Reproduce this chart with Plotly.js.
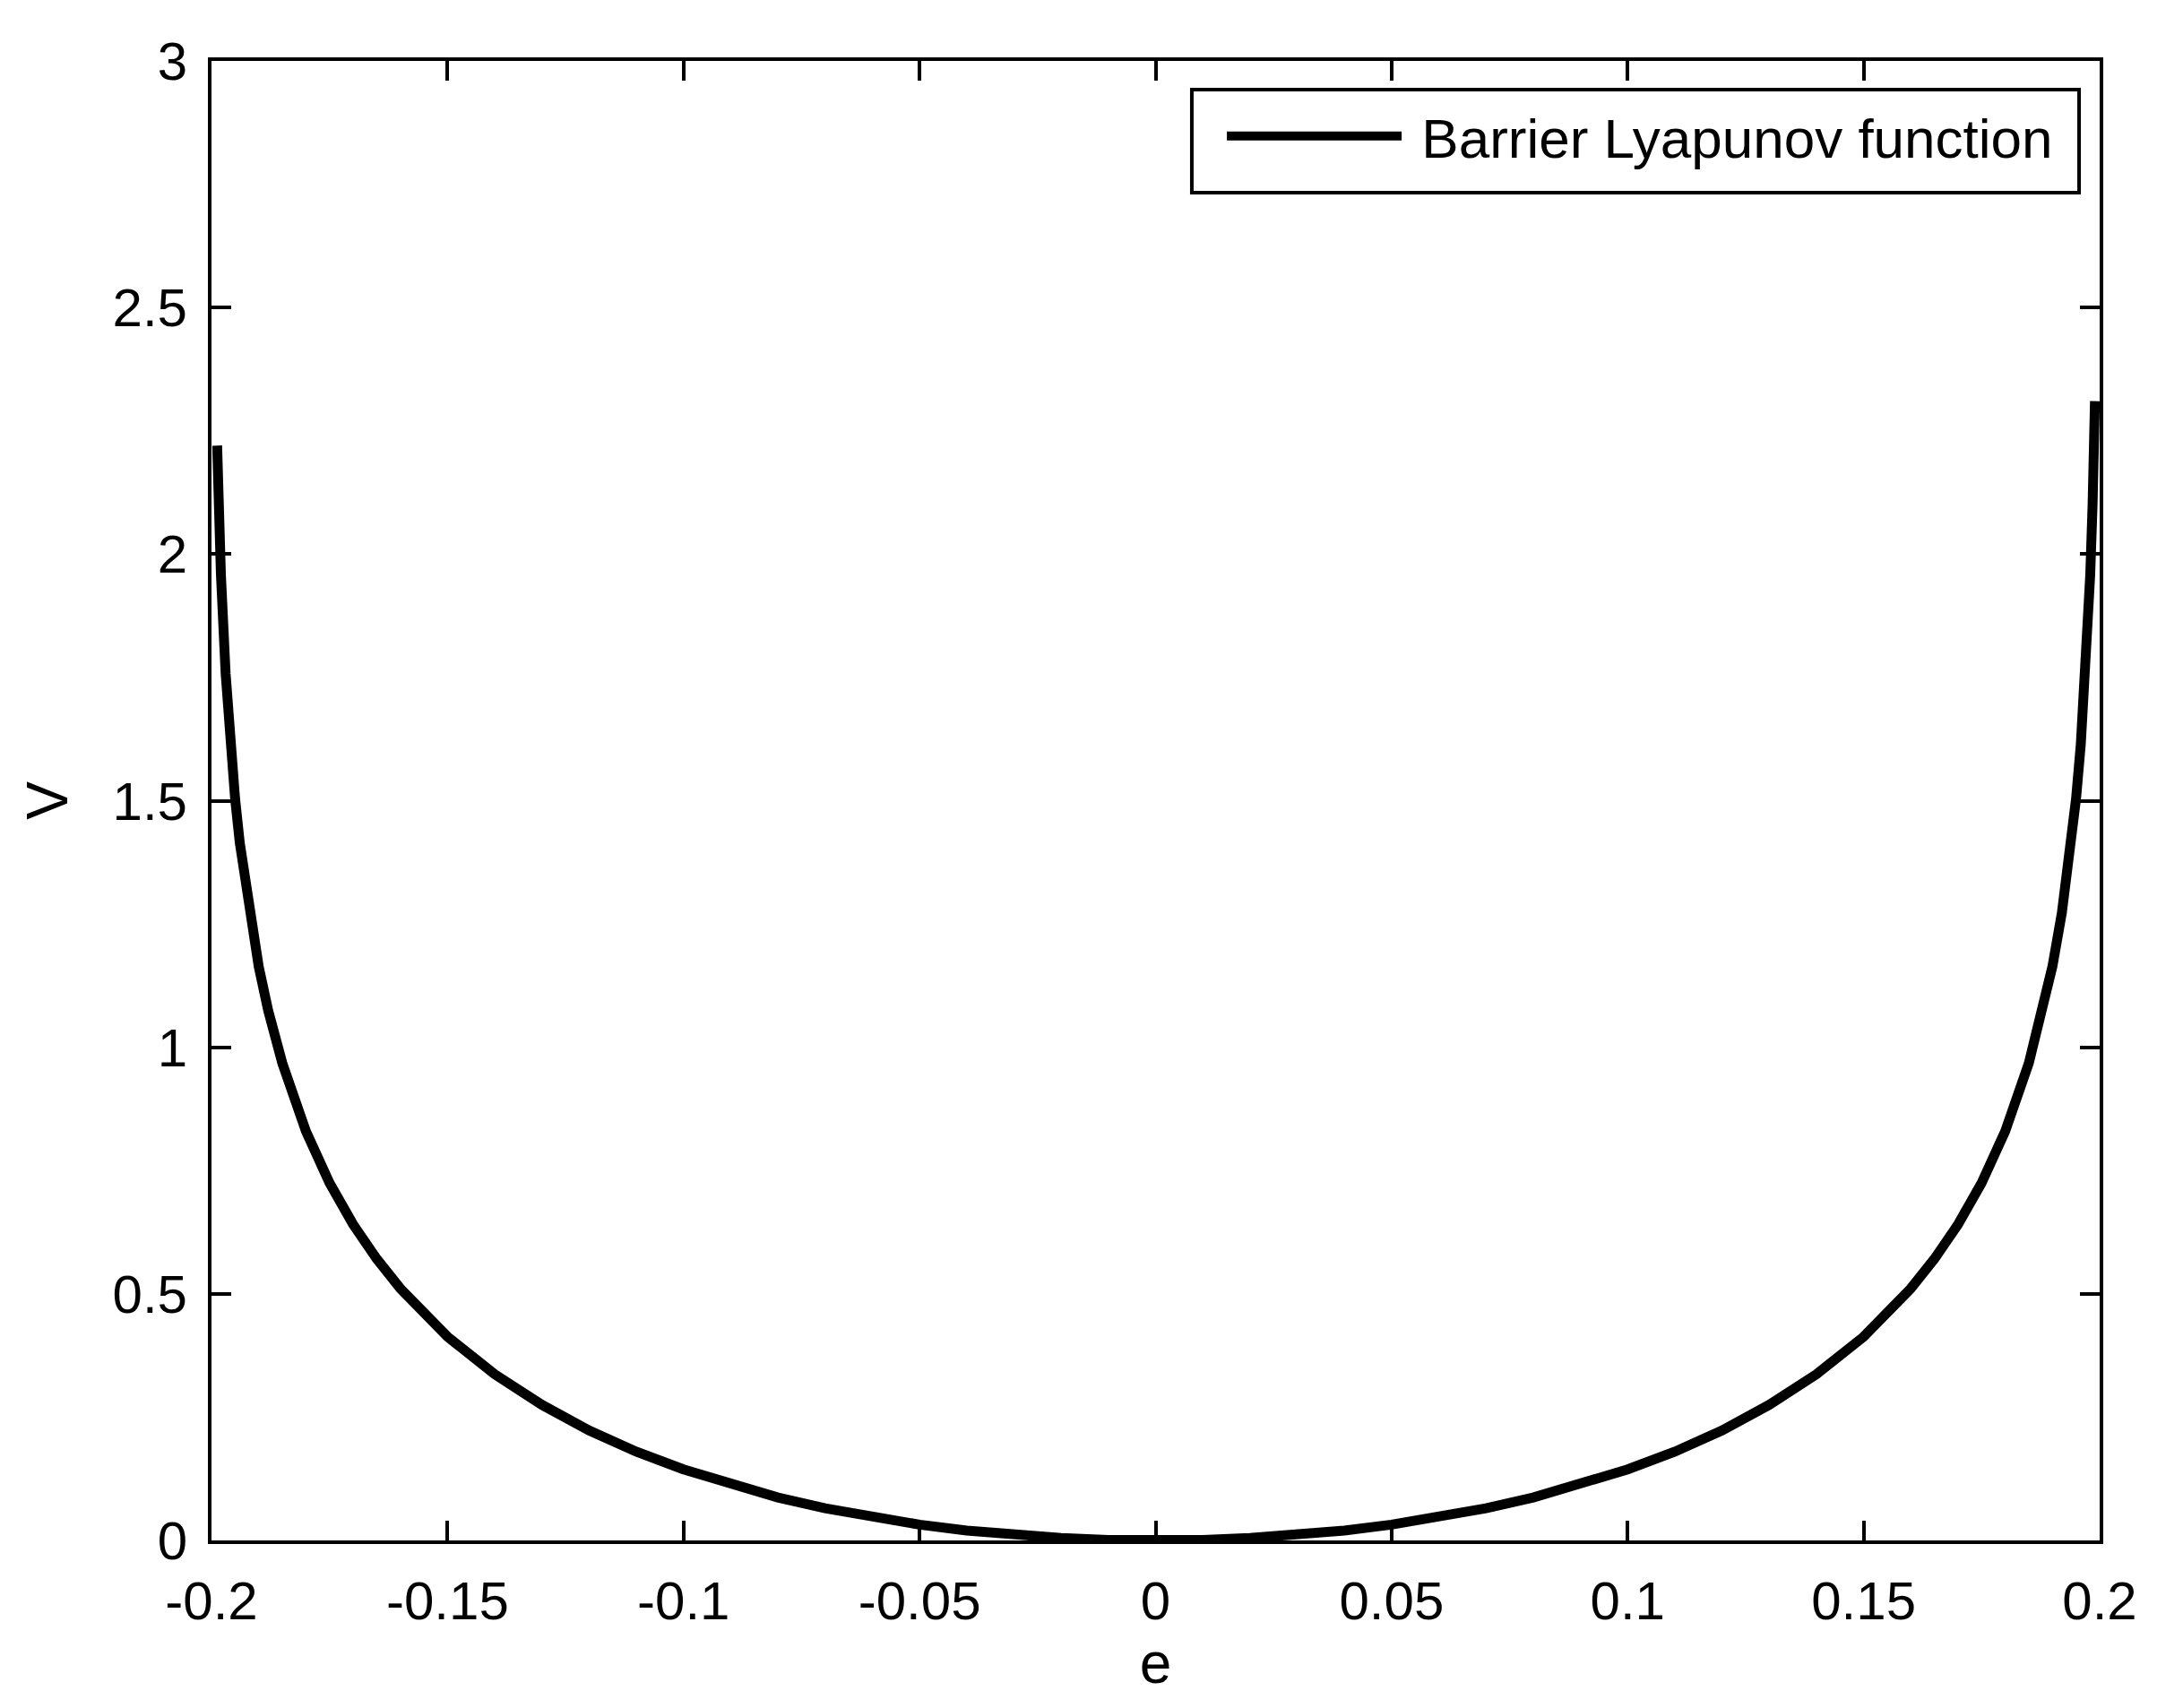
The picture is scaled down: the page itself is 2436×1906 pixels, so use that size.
<!DOCTYPE html>
<html>
<head>
<meta charset="utf-8">
<script src="https://cdn.plot.ly/plotly-3.0.1.min.js"></script>
<style>
  html, body { margin: 0; padding: 0; background: #fff; }
  #chart { width: 2436px; height: 1906px; }
</style>
</head>
<body>
<div id="chart"></div>
<script>
// Tracking error e and barrier Lyapunov function value V
var e = [-0.1988, -0.1985, -0.198, -0.197, -0.196, -0.195, -0.194, -0.192, -0.19, -0.188, -0.185,
         -0.18, -0.175, -0.17, -0.165, -0.16, -0.15, -0.14, -0.13, -0.12, -0.11, -0.10,
         -0.09, -0.08, -0.07, -0.06, -0.05, -0.04, -0.03, -0.02, -0.01, 0,
         0.01, 0.02, 0.03, 0.04, 0.05, 0.06, 0.07, 0.08, 0.09, 0.10,
         0.11, 0.12, 0.13, 0.14, 0.15, 0.16, 0.165, 0.17, 0.175, 0.18,
         0.185, 0.188, 0.19, 0.192, 0.194, 0.195, 0.196, 0.197, 0.198, 0.1985, 0.199];
var V = [2.22, 2.10, 1.958, 1.757, 1.614, 1.504, 1.414, 1.273, 1.164, 1.075, 0.968,
         0.830, 0.725, 0.641, 0.571, 0.511, 0.413, 0.337, 0.275, 0.223, 0.180, 0.144,
         0.113, 0.087, 0.065, 0.047, 0.032, 0.020, 0.011, 0.005, 0.001, 0.0,
         0.001, 0.005, 0.011, 0.020, 0.032, 0.047, 0.065, 0.087, 0.113, 0.144,
         0.180, 0.223, 0.275, 0.337, 0.413, 0.511, 0.571, 0.641, 0.725, 0.830,
         0.968, 1.075, 1.164, 1.273, 1.414, 1.504, 1.614, 1.757, 1.958, 2.10, 2.31];

var xTickVals = [-0.2, -0.15, -0.1, -0.05, 0, 0.05, 0.1, 0.15, 0.2];
var xTickText = ["-0.2", "-0.15", "-0.1", "-0.05", "0", "0.05", "0.1", "0.15", "0.2"];
var yTickVals = [0, 0.5, 1, 1.5, 2, 2.5, 3];
var yTickText = ["0", "0.5", "1", "1.5", "2", "2.5", "3"];

var seriesName = "Barrier Lyapunov function";
var xLabel = "e";
var yLabel = "V";

var FONT = "'Liberation Sans', Arial, Helvetica, sans-serif";

var trace = {
  x: e, y: V,
  type: 'scatter', mode: 'lines',
  name: '\u00a0' + seriesName,
  line: { color: '#000000', width: 11 },
  showlegend: true
};

var axisCommon = {
  showline: true, linecolor: '#000', linewidth: 4,
  mirror: 'ticks',
  ticks: 'inside', ticklen: 22, tickwidth: 4, tickcolor: '#000',
  showgrid: false, zeroline: false,
  tickfont: { family: FONT, size: 60, color: '#000' },
  tickmode: 'array',
  automargin: false
};

var layout = {
  width: 2436, height: 1906,
  margin: { l: 236, r: 93, t: 68, b: 187, pad: 0 },
  paper_bgcolor: '#fff', plot_bgcolor: '#fff',
  font: { family: FONT, size: 62, color: '#000' },
  xaxis: Object.assign({}, axisCommon, {
    range: [-0.2, 0.2],
    tickvals: xTickVals, ticktext: xTickText,
    ticklabelstandoff: 12,
    title: { text: xLabel, font: { family: FONT, size: 64, color: '#000' }, standoff: 13 }
  }),
  yaxis: Object.assign({}, axisCommon, {
    range: [0, 3],
    tickvals: yTickVals, ticktext: yTickText,
    ticklabelstandoff: 11,
    title: { text: yLabel, font: { family: FONT, size: 64, color: '#000' }, standoff: 30 }
  }),
  showlegend: true,
  legend: {
    x: 0.5354, y: 0.9776, xanchor: 'left', yanchor: 'top',
    bgcolor: 'rgba(0,0,0,0)', borderwidth: 0,
    font: { family: FONT, size: 62, color: '#000' },
    itemwidth: 195,
    tracegroupgap: 0
  },
  shapes: [{
    type: 'rect', xref: 'paper', yref: 'paper',
    x0: 0.5192, x1: 0.9891, y0: 0.911, y1: 0.9806,
    line: { color: '#000', width: 4 }, fillcolor: '#fff', layer: 'above'
  }]
};

Plotly.newPlot('chart', [trace], layout, { displayModeBar: false, staticPlot: true });
</script>
</body>
</html>
